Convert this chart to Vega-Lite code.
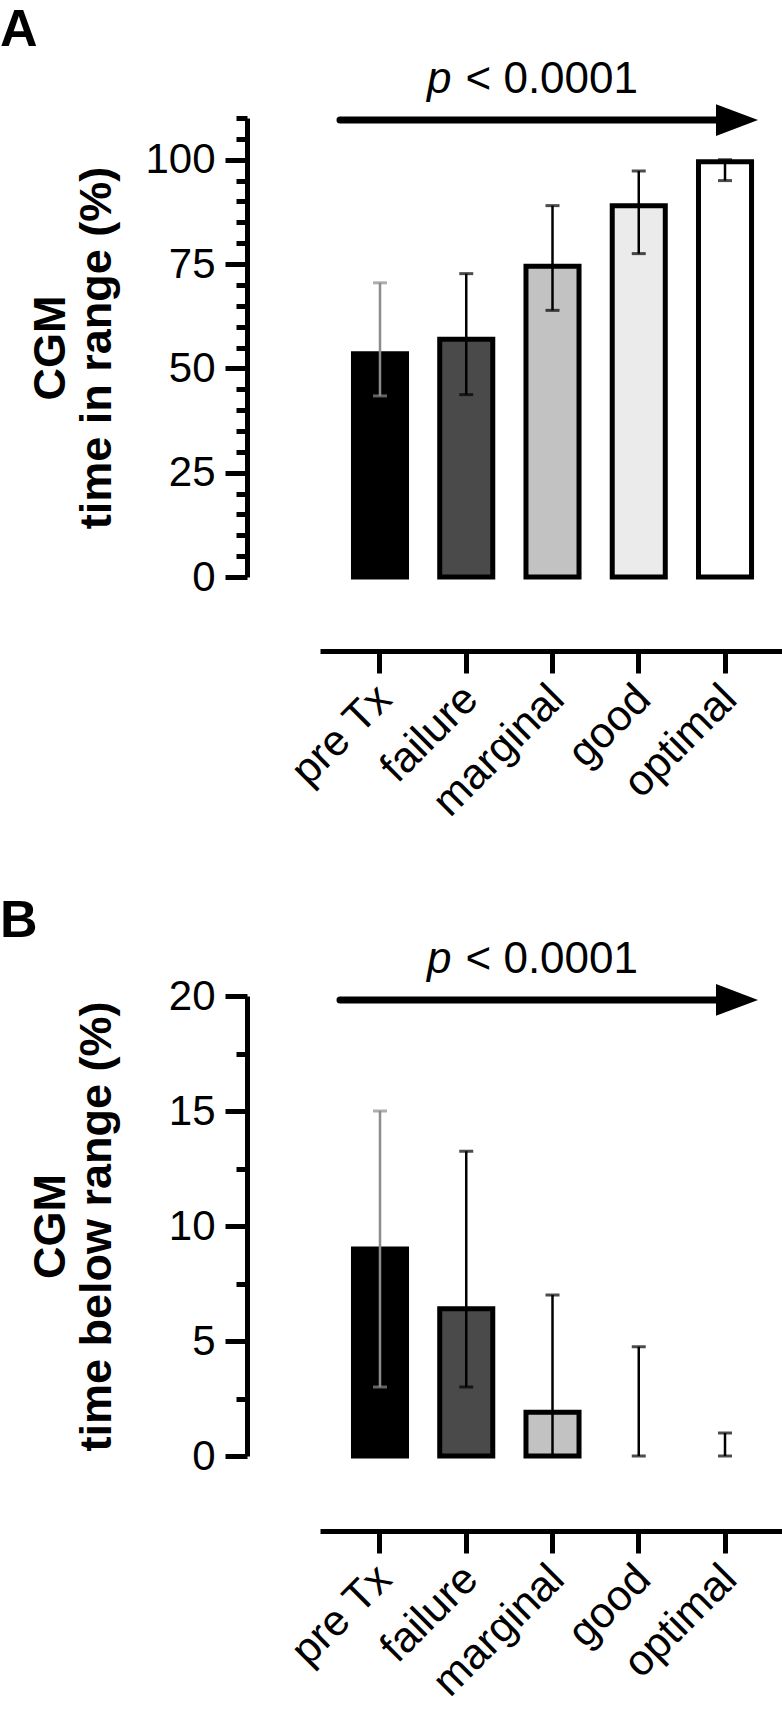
{
  "$schema": "https://vega.github.io/schema/vega-lite/v6.json",
  "background": "white",
  "padding": {"left": 0, "top": 3, "right": 0, "bottom": 0},
  "spacing": 69,
  "config": {
    "view": {"stroke": null},
    "font": "Liberation Sans",
    "axis": {"domainColor": "black", "tickColor": "black", "labelColor": "black", "titleColor": "black", "grid": false, "domainWidth": 5, "tickWidth": 5, "labelFont": "Liberation Sans", "titleFont": "Liberation Sans", "labelOverlap": false}
  },
  "datasets": {
    "tir": [
      {"cat": "pre Tx", "med": 53.5, "lo": 43.4, "hi": 70.5},
      {"cat": "failure", "med": 57.0, "lo": 43.7, "hi": 72.7},
      {"cat": "marginal", "med": 74.5, "lo": 63.9, "hi": 89.0},
      {"cat": "good", "med": 89.0, "lo": 77.5, "hi": 97.3},
      {"cat": "optimal", "med": 99.5, "lo": 95.0, "hi": 100.0}
    ],
    "tbr": [
      {"cat": "pre Tx", "med": 9.0, "lo": 3.0, "hi": 15.0},
      {"cat": "failure", "med": 6.4, "lo": 3.0, "hi": 13.25},
      {"cat": "marginal", "med": 1.9, "lo": 0.0, "hi": 7.0},
      {"cat": "good", "med": 0.0, "lo": 0.0, "hi": 4.75},
      {"cat": "optimal", "med": 0.0, "lo": 0.0, "hi": 1.0}
    ],
    "annA": [{"x0": "pre Tx", "x1": "optimal", "tx": "marginal", "ya": 109.5, "ty": 116.0}],
    "annB": [{"x0": "pre Tx", "x1": "optimal", "tx": "marginal", "ya": 19.83, "ty": 21.0}]
  },
  "vconcat": [
    {
      "width": 465,
      "height": 459,
      "title": {"text": "A", "anchor": "start", "frame": "bounds", "fontSize": 52, "fontWeight": "bold", "color": "black", "dx": -28, "offset": 1},
      "layer": [
        {
          "data": {"name": "tir"},
          "mark": {"type": "bar", "stroke": "black", "strokeWidth": 5},
          "encoding": {
            "x": {"field": "cat", "type": "nominal", "scale": {"domain": ["pre Tx", "failure", "marginal", "good", "optimal"], "paddingInner": 0.385, "paddingOuter": 0.388},
                  "axis": {"title": null, "offset": 74, "tickSize": 22, "labelAngle": -45, "labelFontSize": 43, "labelPadding": 4, "labelOffset": -10, "labelOverlap": false}},
            "y": {"field": "med", "type": "quantitative", "scale": {"domain": [0, 110], "nice": false},
                  "axis": {"title": ["CGM", "time in range (%)"], "values": [0,5,10,15,20,25,30,35,40,45,50,55,60,65,70,75,80,85,90,95,100,105,110], "tickCount": 40, "format": "d",
                           "labelExpr": "datum.value % 25 === 0 ? datum.label : ''", "labelOverlap": false,
                           "tickSize": {"condition": {"test": "datum.value % 25 === 0", "value": 22}, "value": 11},
                           "offset": 73, "labelFontSize": 42, "labelPadding": 10,
                           "titleFontSize": 45, "titleFontWeight": "bold", "titleX": -197, "titleBaseline": "middle", "titleLineHeight": 46}},
            "fill": {"field": "cat", "type": "nominal", "scale": {"domain": ["pre Tx", "failure", "marginal", "good", "optimal"], "range": ["#000000", "#4a4a4a", "#c2c2c2", "#ebebeb", "#ffffff"]}, "legend": null}
          }
        },
        {
          "data": {"name": "tir"},
          "mark": {"type": "rule", "strokeWidth": 2.5},
          "encoding": {
            "x": {"field": "cat", "type": "nominal"},
            "y": {"field": "lo", "type": "quantitative"},
            "y2": {"field": "hi"},
            "color": {"condition": {"test": "datum.cat === 'pre Tx'", "value": "#8c8c8c"}, "value": "black"}
          }
        },
        {
          "data": {"name": "tir"},
          "mark": {"type": "tick", "orient": "horizontal", "size": 14, "thickness": 3},
          "encoding": {
            "x": {"field": "cat", "type": "nominal"},
            "y": {"field": "lo", "type": "quantitative"},
            "color": {"condition": {"test": "datum.cat === 'pre Tx'", "value": "#8c8c8c"}, "value": "black"}
          }
        },
        {
          "data": {"name": "tir"},
          "mark": {"type": "tick", "orient": "horizontal", "size": 14, "thickness": 3},
          "encoding": {
            "x": {"field": "cat", "type": "nominal"},
            "y": {"field": "hi", "type": "quantitative"},
            "color": {"condition": {"test": "datum.cat === 'pre Tx'", "value": "#8c8c8c"}, "value": "black"}
          }
        },
        {
          "data": {"name": "annA"},
          "mark": {"type": "rule", "strokeWidth": 7, "strokeCap": "round", "color": "black", "xOffset": -40, "x2Offset": -8},
          "encoding": {
            "x": {"field": "x0", "type": "nominal"},
            "x2": {"field": "x1"},
            "y": {"field": "ya", "type": "quantitative"}
          }
        },
        {
          "data": {"name": "annA"},
          "mark": {"type": "point", "shape": "M -1 -0.76 L 1 0 L -1 0.76 Z", "size": 1764, "filled": true, "opacity": 1, "color": "black", "xOffset": 12},
          "encoding": {
            "x": {"field": "x1", "type": "nominal"},
            "y": {"field": "ya", "type": "quantitative"}
          }
        },
        {
          "data": {"name": "annA"},
          "mark": {"type": "text", "text": "p", "fontStyle": "italic", "fontSize": 44, "align": "right", "baseline": "alphabetic", "color": "black", "xOffset": -101},
          "encoding": {
            "x": {"field": "tx", "type": "nominal"},
            "y": {"field": "ty", "type": "quantitative"}
          }
        },
        {
          "data": {"name": "annA"},
          "mark": {"type": "text", "text": "< 0.0001", "fontSize": 44, "align": "left", "baseline": "alphabetic", "color": "black", "xOffset": -87},
          "encoding": {
            "x": {"field": "tx", "type": "nominal"},
            "y": {"field": "ty", "type": "quantitative"}
          }
        }
      ]
    },
    {
      "width": 465,
      "height": 460,
      "title": {"text": "B", "anchor": "start", "frame": "bounds", "fontSize": 52, "fontWeight": "bold", "color": "black", "dx": -28, "offset": -10},
      "layer": [
        {
          "data": {"name": "tbr"},
          "transform": [{"filter": "datum.med > 0"}],
          "mark": {"type": "bar", "stroke": "black", "strokeWidth": 5},
          "encoding": {
            "x": {"field": "cat", "type": "nominal", "scale": {"domain": ["pre Tx", "failure", "marginal", "good", "optimal"], "paddingInner": 0.385, "paddingOuter": 0.388},
                  "axis": {"title": null, "offset": 75, "tickSize": 22, "labelAngle": -45, "labelFontSize": 43, "labelPadding": 4, "labelOffset": -10, "labelOverlap": false}},
            "y": {"field": "med", "type": "quantitative", "scale": {"domain": [0, 20], "nice": false},
                  "axis": {"title": ["CGM", "time below range (%)"], "values": [0,2.5,5,7.5,10,12.5,15,17.5,20], "tickCount": 40, "format": "~g",
                           "labelExpr": "datum.value % 5 === 0 ? datum.label : ''", "labelOverlap": false,
                           "tickSize": {"condition": {"test": "datum.value % 5 === 0", "value": 22}, "value": 11},
                           "offset": 73, "labelFontSize": 42, "labelPadding": 10,
                           "titleFontSize": 45, "titleFontWeight": "bold", "titleX": -197, "titleBaseline": "middle", "titleLineHeight": 46}},
            "fill": {"field": "cat", "type": "nominal", "scale": {"domain": ["pre Tx", "failure", "marginal", "good", "optimal"], "range": ["#000000", "#4a4a4a", "#c2c2c2", "#ebebeb", "#ffffff"]}, "legend": null}
          }
        },
        {
          "data": {"name": "tbr"},
          "mark": {"type": "rule", "strokeWidth": 2.5},
          "encoding": {
            "x": {"field": "cat", "type": "nominal"},
            "y": {"field": "lo", "type": "quantitative"},
            "y2": {"field": "hi"},
            "color": {"condition": {"test": "datum.cat === 'pre Tx'", "value": "#8c8c8c"}, "value": "black"}
          }
        },
        {
          "data": {"name": "tbr"},
          "mark": {"type": "tick", "orient": "horizontal", "size": 14, "thickness": 3},
          "encoding": {
            "x": {"field": "cat", "type": "nominal"},
            "y": {"field": "lo", "type": "quantitative"},
            "color": {"condition": {"test": "datum.cat === 'pre Tx'", "value": "#8c8c8c"}, "value": "black"}
          }
        },
        {
          "data": {"name": "tbr"},
          "mark": {"type": "tick", "orient": "horizontal", "size": 14, "thickness": 3},
          "encoding": {
            "x": {"field": "cat", "type": "nominal"},
            "y": {"field": "hi", "type": "quantitative"},
            "color": {"condition": {"test": "datum.cat === 'pre Tx'", "value": "#8c8c8c"}, "value": "black"}
          }
        },
        {
          "data": {"name": "annB"},
          "mark": {"type": "rule", "strokeWidth": 7, "strokeCap": "round", "color": "black", "xOffset": -40, "x2Offset": -8},
          "encoding": {
            "x": {"field": "x0", "type": "nominal"},
            "x2": {"field": "x1"},
            "y": {"field": "ya", "type": "quantitative"}
          }
        },
        {
          "data": {"name": "annB"},
          "mark": {"type": "point", "shape": "M -1 -0.76 L 1 0 L -1 0.76 Z", "size": 1764, "filled": true, "opacity": 1, "color": "black", "xOffset": 12},
          "encoding": {
            "x": {"field": "x1", "type": "nominal"},
            "y": {"field": "ya", "type": "quantitative"}
          }
        },
        {
          "data": {"name": "annB"},
          "mark": {"type": "text", "text": "p", "fontStyle": "italic", "fontSize": 44, "align": "right", "baseline": "alphabetic", "color": "black", "xOffset": -101},
          "encoding": {
            "x": {"field": "tx", "type": "nominal"},
            "y": {"field": "ty", "type": "quantitative"}
          }
        },
        {
          "data": {"name": "annB"},
          "mark": {"type": "text", "text": "< 0.0001", "fontSize": 44, "align": "left", "baseline": "alphabetic", "color": "black", "xOffset": -87},
          "encoding": {
            "x": {"field": "tx", "type": "nominal"},
            "y": {"field": "ty", "type": "quantitative"}
          }
        }
      ]
    }
  ]
}
